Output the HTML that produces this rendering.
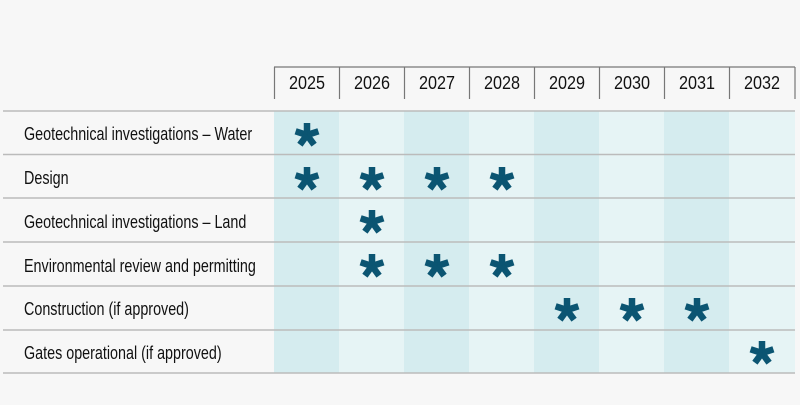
<!DOCTYPE html>
<html><head><style>
body{margin:0;background:#f7f7f7;}
svg text{font-family:"Liberation Sans",sans-serif;fill:#111;}
</style></head><body>
<svg width="800" height="400" xmlns="http://www.w3.org/2000/svg">
<defs>
<g id="a" stroke="#0b5572" stroke-width="6.5">
<line x1="0" y1="0" x2="0" y2="-12"/>
<line x1="0" y1="0" x2="11.4" y2="-3.7"/>
<line x1="0" y1="0" x2="-11.4" y2="-3.7"/>
<line x1="0" y1="0" x2="7.1" y2="9.7"/>
<line x1="0" y1="0" x2="-7.1" y2="9.7"/>
</g>
</defs>
<rect width="800" height="400" fill="#f7f7f7"/>
<rect x="274" y="111" width="65" height="262" fill="#d5ecef"/>
<rect x="339" y="111" width="65" height="262" fill="#e6f4f5"/>
<rect x="404" y="111" width="65" height="262" fill="#d5ecef"/>
<rect x="469" y="111" width="65" height="262" fill="#e6f4f5"/>
<rect x="534" y="111" width="65" height="262" fill="#d5ecef"/>
<rect x="599" y="111" width="65" height="262" fill="#e6f4f5"/>
<rect x="664" y="111" width="65" height="262" fill="#d5ecef"/>
<rect x="729" y="111" width="66" height="262" fill="#e6f4f5"/>
<g stroke="#777" stroke-width="1.2" fill="none">
<line x1="274" y1="67" x2="795" y2="67"/>
<line x1="274.5" y1="67" x2="274.5" y2="99"/>
<line x1="339.5" y1="67" x2="339.5" y2="99"/>
<line x1="404.5" y1="67" x2="404.5" y2="99"/>
<line x1="469.5" y1="67" x2="469.5" y2="99"/>
<line x1="534.5" y1="67" x2="534.5" y2="99"/>
<line x1="599.5" y1="67" x2="599.5" y2="99"/>
<line x1="664.5" y1="67" x2="664.5" y2="99"/>
<line x1="729.5" y1="67" x2="729.5" y2="99"/>
<line x1="795" y1="67" x2="795" y2="99"/>
</g>
<g text-anchor="middle" font-size="18">
<text x="307" y="89" textLength="36" lengthAdjust="spacingAndGlyphs">2025</text><text x="372" y="89" textLength="36" lengthAdjust="spacingAndGlyphs">2026</text><text x="437" y="89" textLength="36" lengthAdjust="spacingAndGlyphs">2027</text><text x="502" y="89" textLength="36" lengthAdjust="spacingAndGlyphs">2028</text>
<text x="567" y="89" textLength="36" lengthAdjust="spacingAndGlyphs">2029</text><text x="632" y="89" textLength="36" lengthAdjust="spacingAndGlyphs">2030</text><text x="697" y="89" textLength="36" lengthAdjust="spacingAndGlyphs">2031</text><text x="762" y="89" textLength="36" lengthAdjust="spacingAndGlyphs">2032</text>
</g>
<g stroke="#bbb" stroke-width="1.5">
<line x1="3" y1="111" x2="795" y2="111"/>
<line x1="3" y1="154.5" x2="795" y2="154.5"/>
<line x1="3" y1="198" x2="795" y2="198"/>
<line x1="3" y1="242" x2="795" y2="242"/>
<line x1="3" y1="286" x2="795" y2="286"/>
<line x1="3" y1="330" x2="795" y2="330"/>
<line x1="3" y1="373" x2="795" y2="373"/>
</g>
<g transform="translate(24,0) scale(0.775,1)" font-size="18.5">
<text x="0" y="140">Geotechnical investigations – Water</text>
<text x="0" y="184">Design</text>
<text x="0" y="228">Geotechnical investigations – Land</text>
<text x="0" y="272">Environmental review and permitting</text>
<text x="0" y="315">Construction (if approved)</text>
<text x="0" y="359">Gates operational (if approved)</text>
</g>
<use href="#a" x="307" y="135"/>
<use href="#a" x="307" y="179"/><use href="#a" x="372" y="179"/><use href="#a" x="437" y="179"/><use href="#a" x="502" y="179"/>
<use href="#a" x="372" y="222"/>
<use href="#a" x="372" y="266"/><use href="#a" x="437" y="266"/><use href="#a" x="502" y="266"/>
<use href="#a" x="567" y="310"/><use href="#a" x="632" y="310"/><use href="#a" x="697" y="310"/>
<use href="#a" x="762" y="353"/>
</svg>
</body></html>
